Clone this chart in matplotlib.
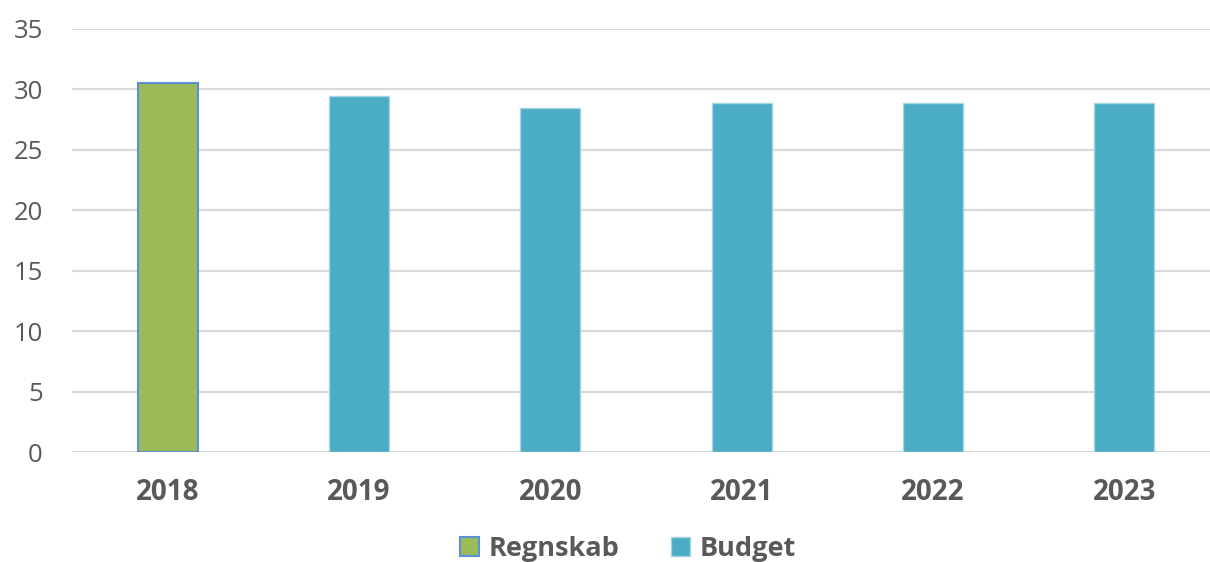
import matplotlib
matplotlib.use("Agg")
import matplotlib.pyplot as plt
from matplotlib.patches import Patch

years = ["2018", "2019", "2020", "2021", "2022", "2023"]
regnskab = [30.5, None, None, None, None, None]
budget = [None, 29.45, 28.45, 28.85, 28.9, 28.85]
yticks = [0, 5, 10, 15, 20, 25, 30, 35]

green = "#9BBB59"
green_edge = "#5B8FD6"
blue = "#4BACC6"
blue_edge = "#A5D5E3"
text_col = "#595959"

plt.rcParams['font.family'] = ['Open Sans', 'DejaVu Sans']

fig = plt.figure(figsize=(12.10, 5.62), dpi=100)
W, H = 1210, 562
left, right = 72, 1220
top, bottom = 29, 452
ax = fig.add_axes([left / W, 1 - bottom / H, (right - left) / W, (bottom - top) / H])

x = list(range(len(years)))
bw = 0.313
for i, v in enumerate(regnskab):
    if v is not None:
        ax.bar(i, v, width=bw, color=green, edgecolor=green_edge, linewidth=1.5, zorder=3)
for i, v in enumerate(budget):
    if v is not None:
        ax.bar(i, v, width=bw, color=blue, edgecolor=blue_edge, linewidth=1.0, zorder=3)

ax.set_xlim(-0.5, len(years) - 0.5)
ax.set_ylim(0, 35)
ax.set_yticks(yticks)
ax.set_yticklabels([str(t) for t in yticks], fontsize=18.5, color=text_col)
ax.set_xticks(x)
ax.set_xticklabels(years, fontsize=20, fontweight='bold', color=text_col)
ax.tick_params(axis='y', length=0, pad=21)
ax.tick_params(axis='x', length=0, pad=19)
ax.grid(axis='y', color="#D9D9D9", linewidth=1.6, zorder=0)
ax.set_axisbelow(True)
for s in ax.spines.values():
    s.set_visible(False)

handles = [Patch(facecolor=green, edgecolor=green_edge, linewidth=1.5, label="Regnskab"),
           Patch(facecolor=blue, edgecolor=blue_edge, linewidth=1.0, label="Budget")]
leg = fig.legend(handles=handles, loc='center', bbox_to_anchor=(628 / W, 1 - 549 / H),
                 ncol=2, frameon=False, prop={'size': 19.5, 'weight': 'bold'},
                 handlelength=0.7, handleheight=0.7, handletextpad=0.35, columnspacing=1.9)
for t in leg.get_texts():
    t.set_color(text_col)

fig.savefig("out.png", dpi=100)
